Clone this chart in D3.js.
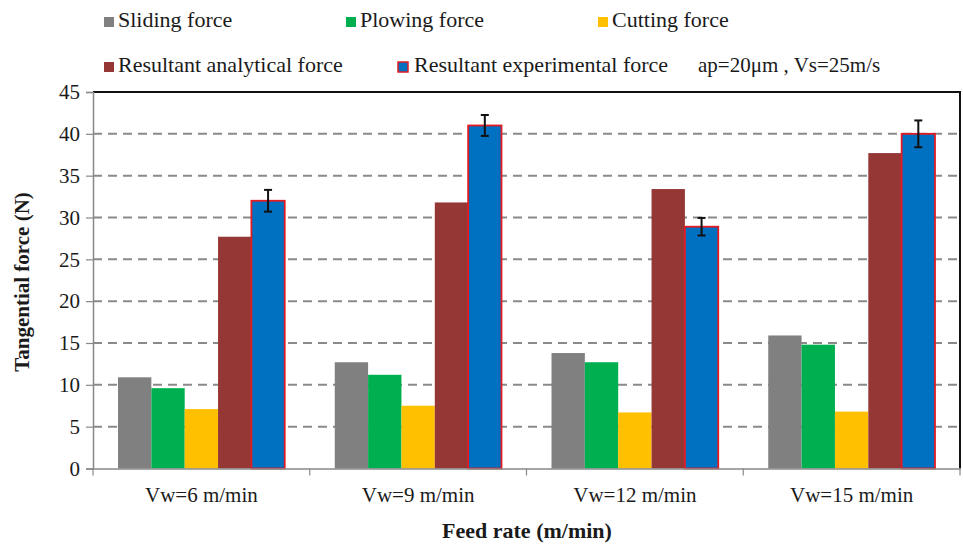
<!DOCTYPE html>
<html lang="en">
<head>
    <meta charset="utf-8">
    <title>Tangential force</title>
    <script type="text/javascript" src="https://d3js.org/d3.v7.min.js"></script>
    <style>
        body { margin: 0; background: #fff; }
        svg text { font-family: "Liberation Serif", "Times New Roman", serif !important; fill: #1a1a1a; }
    </style>
</head>
<body>
    <div id="viz"></div>

    <script type="text/javascript">
        // data
        const categories = ["Vw=6 m/min", "Vw=9 m/min", "Vw=12 m/min", "Vw=15 m/min"];
        const seriesNames = ["Sliding force", "Plowing force", "Cutting force",
                             "Resultant analytical force", "Resultant experimental force"];
        const sliding = [10.9, 12.7, 13.8, 15.9];
        const plowing = [9.6, 11.2, 12.7, 14.8];
        const cutting = [7.1, 7.5, 6.7, 6.8];
        const analytical = [27.7, 31.8, 33.4, 37.7];
        const experimental = [32.0, 41.0, 28.9, 40.0];
        const expError = [1.3, 1.25, 1.05, 1.6];
        const yTicks = [0, 5, 10, 15, 20, 25, 30, 35, 40, 45];

        const colors = ["#808080", "#00b050", "#ffc000", "#953735", "#0070c0"];
        const seriesValues = [sliding, plowing, cutting, analytical, experimental];

        const width = 963;
        const height = 545;
        const margin = {top: 92, right: 3, bottom: 76, left: 93};

        const svg = d3.select("#viz")
            .append("svg")
            .attr("width", width)
            .attr("height", height);

        const x0 = d3.scaleBand()
            .domain(categories)
            .range([margin.left, width - margin.right])
            .padding(0);

        const x1 = d3.scaleBand()
            .domain(d3.range(seriesNames.length))
            .range([0, x0.bandwidth()])
            .paddingInner(0)
            .paddingOuter(0.75);

        const y = d3.scaleLinear()
            .domain([0, 45])
            .range([height - margin.bottom - 0.5, margin.top]);

        // dashed gridlines
        svg.append("g")
            .selectAll("line")
            .data(yTicks.filter(t => t > 0 && t < 45))
            .enter()
            .append("line")
                .attr("x1", margin.left)
                .attr("x2", width - margin.right)
                .attr("y1", d => y(d))
                .attr("y2", d => y(d))
                .attr("stroke", "#8a8a8a")
                .attr("stroke-width", 2)
                .attr("stroke-dasharray", "9,6");

        // plot border top/right
        svg.append("path")
            .attr("d", `M${margin.left},${y(45)}H${width - margin.right}V${y(0)}`)
            .attr("fill", "none")
            .attr("stroke", "#111")
            .attr("stroke-width", 2);

        // bars
        const rows = [];
        categories.forEach((c, i) => {
            seriesValues.forEach((vals, s) => {
                rows.push({cat: c, s: s, v: vals[i], err: s === 4 ? expError[i] : null});
            });
        });

        svg.append("g")
            .selectAll("rect")
            .data(rows)
            .enter()
            .append("rect")
                .attr("x", d => x0(d.cat) + x1(d.s))
                .attr("y", d => y(d.v))
                .attr("width", x1.bandwidth())
                .attr("height", d => y(0) - y(d.v))
                .attr("fill", d => colors[d.s])
                .attr("stroke", d => d.s === 4 ? "#e31b23" : "none")
                .attr("stroke-width", 1.8);

        // error bars
        const errG = svg.append("g")
            .attr("stroke", "#111")
            .attr("stroke-width", 2);
        rows.filter(d => d.err !== null).forEach(d => {
            const cx = x0(d.cat) + x1(d.s) + x1.bandwidth() / 2;
            errG.append("line")
                .attr("x1", cx).attr("x2", cx)
                .attr("y1", y(d.v + d.err)).attr("y2", y(d.v - d.err));
            [d.v + d.err, d.v - d.err].forEach(e => {
                errG.append("line")
                    .attr("x1", cx - 4).attr("x2", cx + 4)
                    .attr("y1", y(e)).attr("y2", y(e));
            });
        });

        // y axis
        const yAxis = d3.axisLeft(y)
            .tickValues(yTicks)
            .tickSize(7)
            .tickPadding(6);
        const yG = svg.append("g")
            .attr("transform", `translate(${margin.left},0)`)
            .attr("font-family", null)
            .call(yAxis);
        yG.select(".domain").attr("stroke", "#888").attr("stroke-width", 1.5);
        yG.selectAll(".tick line").attr("stroke", "#888").attr("stroke-width", 1.2);
        yG.selectAll(".tick text")
            .style("font-size", "21px");

        // x axis
        const xAxis = d3.axisBottom(x0)
            .tickSize(0)
            .tickPadding(19);
        const xG = svg.append("g")
            .attr("transform", `translate(0,${y(0)})`)
            .call(xAxis);
        xG.select(".domain").attr("stroke", "#888").attr("stroke-width", 1.5);
        xG.selectAll(".tick text")
            .style("font-size", "21px");
        // boundary ticks between categories
        svg.append("g")
            .selectAll("line")
            .data(categories.concat(["end"]))
            .enter()
            .append("line")
                .attr("x1", (d, i) => i < categories.length ? x0(d) : x0.range()[1])
                .attr("x2", (d, i) => i < categories.length ? x0(d) : x0.range()[1])
                .attr("y1", y(0))
                .attr("y2", y(0) + 7)
                .attr("stroke", "#888")
                .attr("stroke-width", 1.2);

        // axis titles
        svg.append("text")
            .attr("x", 527)
            .attr("y", 538)
            .attr("text-anchor", "middle")
            .style("font-size", "22px")
            .style("font-weight", "bold")
            .text("Feed rate (m/min)");

        svg.append("text")
            .attr("transform", "translate(29,282) rotate(-90)")
            .attr("text-anchor", "middle")
            .style("font-size", "21px")
            .style("font-weight", "bold")
            .text("Tangential force (N)");

        // legend
        const legendPos = [[104, 27], [346, 27], [598, 27], [104, 72], [398, 72]];
        const legend = svg.append("g")
            .selectAll("g")
            .data(seriesNames)
            .enter()
            .append("g")
                .attr("transform", (d, i) => `translate(${legendPos[i][0]},${legendPos[i][1]})`);
        legend.append("rect")
            .attr("x", 0)
            .attr("y", -10)
            .attr("width", 10)
            .attr("height", 10)
            .attr("fill", (d, i) => colors[i])
            .attr("stroke", (d, i) => i === 4 ? "#e31b23" : "none")
            .attr("stroke-width", 1.5);
        legend.append("text")
            .attr("x", (d, i) => i === 4 ? 16 : 14)
            .attr("y", 0)
            .style("font-size", "22px")
            .text(d => d);

        svg.append("text")
            .attr("x", 698)
            .attr("y", 72)
            .style("font-size", "21px")
            .text("ap=20μm , Vs=25m/s");
    </script>
</body>
</html>
